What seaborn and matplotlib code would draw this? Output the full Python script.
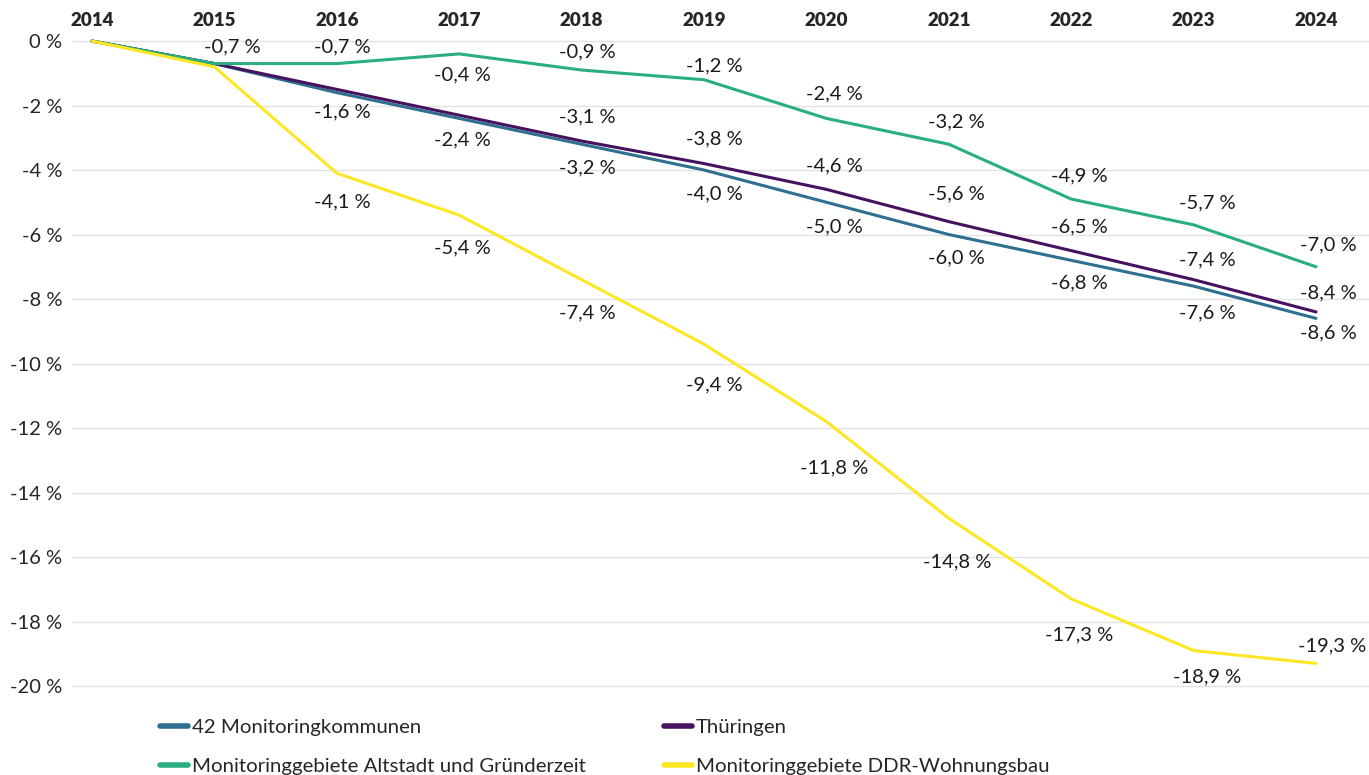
import matplotlib
matplotlib.use("Agg")
import matplotlib.pyplot as plt
import seaborn as sns
import pandas as pd

# --- data -------------------------------------------------------------
years = [2014, 2015, 2016, 2017, 2018, 2019, 2020, 2021, 2022, 2023, 2024]

kommunen = [0.0, -0.7, -1.6, -2.4, -3.2, -4.0, -5.0, -6.0, -6.8, -7.6, -8.6]
thueringen = [0.0, -0.7, -1.5, -2.3, -3.1, -3.8, -4.6, -5.6, -6.5, -7.4, -8.4]
altstadt = [0.0, -0.7, -0.7, -0.4, -0.9, -1.2, -2.4, -3.2, -4.9, -5.7, -7.0]
ddr = [0.0, -0.8, -4.1, -5.4, -7.4, -9.4, -11.8, -14.8, -17.3, -18.9, -19.3]

series_names = [
    "42 Monitoringkommunen",
    "Thüringen",
    "Monitoringgebiete Altstadt und Gründerzeit",
    "Monitoringgebiete DDR-Wohnungsbau",
]
series_values = [kommunen, thueringen, altstadt, ddr]
y_ticks = [0, -2, -4, -6, -8, -10, -12, -14, -16, -18, -20]

# --- styling ----------------------------------------------------------
colors = {
    "42 Monitoringkommunen": "#2f6f8f",
    "Thüringen": "#46125f",
    "Monitoringgebiete Altstadt und Gründerzeit": "#2aae80",
    "Monitoringgebiete DDR-Wohnungsbau": "#fde725",
}

# label placement in screen pixels: shift right per year, shift down per series
# (None = no label for that point)
label_dx = [0, 18, 6, 3, 6, 10, 8, 8, 8, 14, 12]
label_dy = {
    "42 Monitoringkommunen": [None, None, 19, 21, 24, 24, 25, 23, 23, 27, 15],
    "Thüringen": [None, None, None, None, -24, -25, -23, -28, -24, -20, -19],
    "Monitoringgebiete Altstadt und Gründerzeit": [None, -17, -17, 21, -18, -14, -25, -22, -23, -22, -22],
    "Monitoringgebiete DDR-Wohnungsbau": [None, None, 29, 33, 33, 41, 46, 44, 36, 26, -18],
}

sns.set_theme(style="white")
plt.rcParams["font.family"] = ["Lato", "DejaVu Sans"]

rows = []
for name, vals in zip(series_names, series_values):
    for yr, v in zip(years, vals):
        rows.append({"Jahr": yr, "Wert": v, "Reihe": name})
df = pd.DataFrame(rows)

fig = plt.figure(figsize=(13.69, 7.75), dpi=100)
ax = fig.add_axes([0.0526, 0.1065, 0.9474, 0.8489])

sns.lineplot(data=df, x="Jahr", y="Wert", hue="Reihe", hue_order=series_names,
             palette=colors, linewidth=2.2, ax=ax, legend=False)

# value labels
for name, vals in zip(series_names, series_values):
    for i, (yr, v) in enumerate(zip(years, vals)):
        dy = label_dy[name][i]
        if dy is None:
            continue
        dx = label_dx[i]
        if name == "Monitoringgebiete DDR-Wohnungsbau" and yr == 2024:
            dx = 16
        txt = f"{v:.1f}".replace(".", ",") + " %"
        ax.annotate(txt, (yr, v), xytext=(dx, -dy), textcoords="offset pixels",
                    ha="center", va="center", fontsize=14.5, color="#1a1a1a")

ax.set_xlim(2013.837, 2024.433)
ax.set_ylim(-20.2, 0.2)
ax.set_xticks(years)
ax.set_xticklabels([str(y) for y in years], fontweight="heavy", fontsize=13.5)
ax.xaxis.tick_top()
ax.tick_params(axis="x", length=0, pad=4)
ax.set_yticks(y_ticks)
ax.set_yticklabels([f"{t} %" for t in y_ticks], fontsize=14.5)
ax.tick_params(axis="y", length=0, pad=7)
ax.yaxis.grid(True, color="#e3e3e3", linewidth=1)
ax.set_axisbelow(True)
ax.set_xlabel("")
ax.set_ylabel("")
for s in ax.spines.values():
    s.set_visible(False)

# legend: two columns at the bottom
handles = [plt.Line2D([], [], color=colors[n], linewidth=4, solid_capstyle="round")
           for n in series_names]
order = [0, 2, 1, 3]
fig.legend([handles[i] for i in order], [series_names[i] for i in order],
           ncol=2, loc="upper left", bbox_to_anchor=(0.1169, 0.073),
           frameon=False, fontsize=14.7, handlelength=1.37, handletextpad=0.2,
           columnspacing=3.8, labelspacing=1.06, borderaxespad=0, borderpad=0)

fig.savefig("out.png", dpi=100)
